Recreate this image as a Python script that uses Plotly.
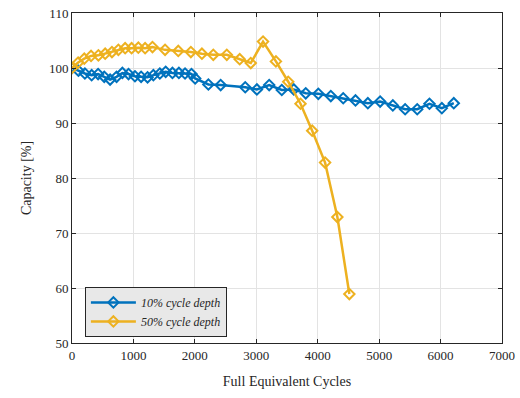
import plotly.graph_objects as go

cycles_10 = [0, 105, 210, 320, 425, 525, 620, 725, 820, 920, 1025, 1125, 1230, 1325, 1430,
             1525, 1635, 1740, 1840, 1945, 2005, 2220, 2420, 2820, 3010, 3210, 3415, 3610,
             3805, 4010, 4213, 4415, 4615, 4816, 5016, 5223, 5423, 5620, 5819, 6021, 6215]
cap_10 = [100, 99.5, 99.0, 98.7, 98.9, 98.4, 97.9, 98.4, 99.1, 98.9, 98.5, 98.4, 98.3, 98.7, 99.0,
          99.3, 99.1, 99.1, 99.0, 98.9, 98.1, 97.0, 96.9, 96.5, 96.1, 96.9, 96.0, 96.1,
          95.4, 95.3, 94.9, 94.5, 94.1, 93.6, 93.9, 93.2, 92.5, 92.5, 93.5, 92.7, 93.6]

cycles_50 = [0, 100, 200, 310, 430, 540, 650, 755, 865, 970, 1080, 1190, 1310, 1515, 1730,
             1935, 2115, 2300, 2520, 2730, 2910, 3110, 3320, 3520, 3720, 3910, 4120, 4320, 4515]
cap_50 = [100, 101.0, 101.7, 102.2, 102.3, 102.6, 102.9, 103.3, 103.6, 103.6, 103.7, 103.6, 103.8,
          103.3, 103.1, 102.9, 102.6, 102.4, 102.4, 101.6, 100.9, 104.8, 101.2, 97.5, 93.5,
          88.6, 82.8, 72.9, 58.9]

series_names = ["10% cycle depth", "50% cycle depth"]
colors = ["#0072BD", "#EDB120"]

fig = go.Figure()
for xs, ys, name, c in [(cycles_10, cap_10, series_names[0], colors[0]),
                        (cycles_50, cap_50, series_names[1], colors[1])]:
    fig.add_trace(go.Scatter(
        x=xs, y=ys, name="<i>" + name + "</i>", mode="lines+markers",
        line=dict(color=c, width=2.5),
        marker=dict(symbol="diamond-open", size=8, color=c, line=dict(width=2, color=c)),
    ))

axis_common = dict(
    showline=True, linecolor="#262626", linewidth=1, mirror="ticks",
    ticks="inside", ticklen=4, tickcolor="#262626",
    showgrid=True, gridcolor="#e3e3e3", gridwidth=1, zeroline=False,
    automargin=False,
    tickfont=dict(family="Liberation Serif", size=13, color="#262626"),
)

fig.update_layout(
    width=520, height=398,
    margin=dict(l=72, r=18, t=13, b=55),
    paper_bgcolor="white", plot_bgcolor="white",
    font=dict(family="Liberation Serif", color="#262626"),
    xaxis=dict(range=[0, 7000], dtick=1000, **axis_common,
               title=dict(text="Full Equivalent Cycles", font=dict(size=14), standoff=14)),
    yaxis=dict(range=[50, 110], dtick=10, **axis_common,
               title=dict(text="Capacity [%]", font=dict(size=14), standoff=14)),
    legend=dict(x=0.03, y=0.17, xanchor="left", yanchor="top",
                bgcolor="#e8e8e8", bordercolor="#262626", borderwidth=1,
                font=dict(family="Liberation Serif", size=12, color="#262626"),
                tracegroupgap=0, itemwidth=45),
    showlegend=True,
)

fig.write_html("out.html")
